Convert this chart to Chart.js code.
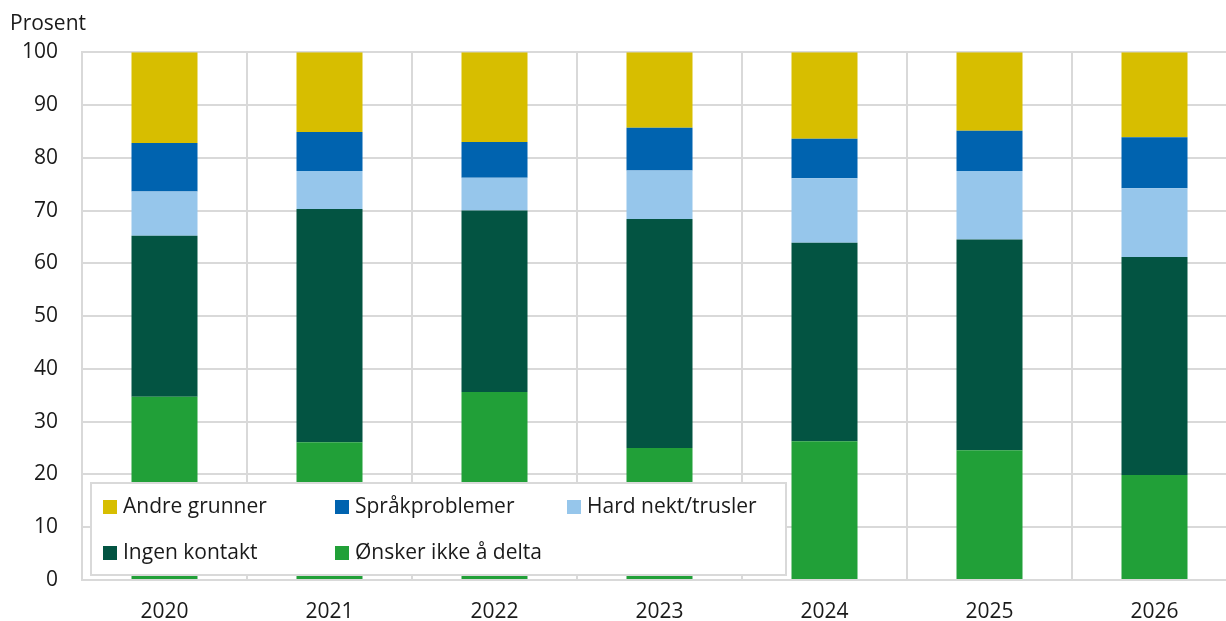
<!DOCTYPE html>
<html>
<head>
<meta charset="utf-8">
<script src="https://cdn.jsdelivr.net/npm/chart.js@4/dist/chart.umd.min.js"></script>
<style>
  html, body { margin: 0; padding: 0; background: #fff; overflow: hidden; }
  #wrap { width: 1240px; height: 621px; }
</style>
</head>
<body>
<div id="wrap"><canvas id="grafikk" width="1240" height="621"></canvas></div>
<script>
var aar = ['2020', '2021', '2022', '2023', '2024', '2025', '2026'];
var onskerIkkeDelta = [34.7, 26.1, 35.6, 25.0, 26.3, 24.6, 19.9];
var ingenKontakt = [30.5, 44.2, 34.4, 43.4, 37.6, 39.9, 41.3];
var hardNekt = [8.4, 7.2, 6.2, 9.2, 12.2, 13.0, 13.0];
var spraakproblemer = [9.2, 7.4, 6.8, 8.1, 7.5, 7.6, 9.7];
var andreGrunner = [17.2, 15.1, 17.0, 14.3, 16.4, 14.9, 16.1];
var yTicks = [0, 10, 20, 30, 40, 50, 60, 70, 80, 90, 100];

var tekstFarge = '#1a1a1a';
var gridFarge = '#d9d9d9';
var font = "'Open Sans', 'Noto Sans', sans-serif";
var fontStr = 21;

// legend drawn inside the plot, 3 columns, reverse stack order
var legendeIPlott = {
	id: 'legendeIPlott',
	afterDraw: function(chart) {
		var ctx = chart.ctx;
		var area = chart.chartArea;
		var x0 = area.left + 9, y1 = area.bottom - 5;
		var w = 695, h = 92;
		var y0 = y1 - h;
		ctx.save();
		ctx.fillStyle = '#fff';
		ctx.fillRect(x0, y0, w, h);
		ctx.strokeStyle = gridFarge;
		ctx.lineWidth = 2;
		ctx.strokeRect(x0, y0, w, h);
		ctx.font = fontStr + 'px ' + font;
		ctx.textBaseline = 'middle';
		ctx.fillStyle = tekstFarge;
		var sett = chart.data.datasets.slice().reverse();
		sett.forEach(function(ds, i) {
			var kol = i % 3, rad = Math.floor(i / 3);
			var mx = x0 + 12 + kol * 232;
			var my = y0 + 24 + rad * 46;
			ctx.fillStyle = ds.backgroundColor;
			ctx.fillRect(mx, my - 7, 14, 14);
			ctx.fillStyle = tekstFarge;
			ctx.fillText(ds.label, mx + 20, my);
		});
		ctx.restore();
	}
};

new Chart(document.getElementById('grafikk').getContext('2d'), {
	type: 'bar',
	data: {
		labels: aar,
		datasets: [
			{ label: 'Ønsker ikke å delta', data: onskerIkkeDelta, backgroundColor: '#21a038' },
			{ label: 'Ingen kontakt', data: ingenKontakt, backgroundColor: '#035442' },
			{ label: 'Hard nekt/trusler', data: hardNekt, backgroundColor: '#96c6eb' },
			{ label: 'Språkproblemer', data: spraakproblemer, backgroundColor: '#0063af' },
			{ label: 'Andre grunner', data: andreGrunner, backgroundColor: '#d7be00' }
		]
	},
	options: {
		responsive: false,
		animation: false,
		layout: { padding: { left: 10, right: 3, top: 0, bottom: 0 } },
		datasets: { bar: { barPercentage: 0.4, categoryPercentage: 1.0, borderWidth: 0 } },
		plugins: {
			legend: { display: false },
			tooltip: { enabled: false },
			title: {
				display: true,
				text: 'Prosent',
				align: 'start',
				color: tekstFarge,
				font: { family: font, size: fontStr, weight: 'normal', lineHeight: 1.2 },
				padding: { top: 11, bottom: 16 }
			}
		},
		scales: {
			x: {
				stacked: true,
				grid: { color: gridFarge, lineWidth: 2, drawTicks: false, offset: true },
				border: { color: gridFarge, width: 2 },
				ticks: { color: tekstFarge, font: { family: font, size: fontStr }, padding: 19, maxRotation: 0 },
				afterFit: function(scale) { scale.height = 41; }
			},
			y: {
				stacked: true,
				min: 0,
				max: 100,
				afterBuildTicks: function(scale) {
					scale.ticks = yTicks.map(function(v) { return { value: v }; });
				},
				grid: { color: gridFarge, lineWidth: 2, drawTicks: false },
				border: { color: gridFarge, width: 2 },
				ticks: { color: tekstFarge, font: { family: font, size: fontStr }, padding: 24 },
				afterFit: function(scale) { scale.width = 72; }
			}
		}
	},
	plugins: [legendeIPlott]
});
</script>
</body>
</html>
